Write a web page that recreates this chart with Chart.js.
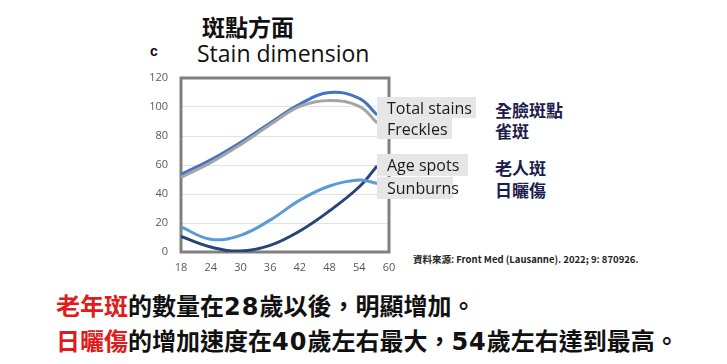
<!DOCTYPE html>
<html lang="zh-Hant">
<head>
  <meta charset="UTF-8" />
  <title>斑點方面 - Stain dimension</title>
  <script src="https://cdn.jsdelivr.net/npm/chart.js"></script>
  <style>
    body {
      margin: 0;
      background: #fff;
      width: 727px;
      height: 364px;
      position: relative;
      overflow: hidden;
      font-family: "Noto Sans CJK TC", "Noto Sans", sans-serif;
    }
    .abs { position: absolute; white-space: nowrap; }
    #titulo { left: 202px; top: 9px; font-size: 23px; font-weight: bold; color: #111; line-height: 34px; }
    #letra { left: 150px; top: 43px; font-size: 14px; font-weight: bold; color: #111; font-family: "Liberation Sans", sans-serif; }
    #sub { left: 197px; top: 37px; font-size: 23px; color: #111; font-family: "Open Sans", sans-serif; line-height: 32px; }
    #caja { left: 140px; top: 70px; width: 260px; height: 210px; }
    .etq {
      background: #e6e6e6;
      font-family: "Open Sans", sans-serif;
      font-size: 16px;
      color: #1a1a1a;
      padding-left: 10px;
      box-sizing: border-box;
      line-height: 22px;
      height: 21px;
      left: 377px;
      z-index: 2;
    }
    .zh { left: 495px; font-size: 17px; font-weight: bold; color: #1c1c4e; line-height: 22px; }
    #fuente { left: 413px; top: 252px; font-size: 9.5px; font-weight: bold; color: #222; }
    .linea { left: 56px; font-size: 24px; font-weight: bold; color: #111; line-height: 30px; }
    .num { font-family: "DejaVu Sans", sans-serif; letter-spacing: 1px; }
    .rojo { color: #e01b1b; }
  </style>
</head>
<body>
  <div class="abs" id="titulo">斑點方面</div>
  <div class="abs" id="letra">c</div>
  <div class="abs" id="sub">Stain dimension</div>

  <div class="abs" id="caja"><canvas id="grafico"></canvas></div>

  <div class="abs etq" style="top:97px;width:99px;">Total stains</div>
  <div class="abs etq" style="top:118px;width:75px;">Freckles</div>
  <div class="abs etq" style="top:154px;width:91px;height:22px;">Age spots</div>
  <div class="abs etq" style="top:177px;width:76px;height:22px;">Sunburns</div>

  <div class="abs zh" style="top:99px;">全臉斑點</div>
  <div class="abs zh" style="top:120px;">雀斑</div>
  <div class="abs zh" style="top:157px;">老人斑</div>
  <div class="abs zh" style="top:179px;">日曬傷</div>

  <div class="abs" id="fuente">資料來源: Front Med (Lausanne). 2022; 9: 870926.</div>

  <div class="abs linea" style="top:290px;"><span class="rojo">老年斑</span>的數量在<span class="num">28</span>歲以後，明顯增加。</div>
  <div class="abs linea" style="top:325px;"><span class="rojo">日曬傷</span>的增加速度在<span class="num">40</span>歲左右最大，<span class="num">54</span>歲左右達到最高。</div>

  <script>
    // edades (la curva termina bajo las etiquetas)
    const edades = [18, 24, 30, 36, 42, 48, 54, 57.6];
    const totalStains = [53.5, 63.5, 75.5, 89, 102, 110, 106, 94.5];
    const freckles = [51.5, 61.6, 74, 87.7, 100.4, 104.5, 100.4, 89];
    const ageSpots = [10.8, 3.5, 0.7, 4.6, 14.5, 28.4, 45, 59.3];
    const sunburns = [17.3, 8.8, 11.5, 22, 35.8, 45.5, 49.6, 47.3];

    function serie(valores, color) {
      return {
        data: edades.map((x, i) => ({ x: x, y: valores[i] })),
        borderColor: color,
        borderWidth: 3,
        pointRadius: 0,
        tension: 0.4,
        fill: false
      };
    }

    const marco = {
      id: 'marco',
      beforeDatasetsDraw(chart) {
        const a = chart.chartArea;
        const ctx = chart.ctx;
        ctx.save();
        ctx.strokeStyle = '#808080';
        ctx.lineWidth = 3;
        ctx.strokeRect(a.left, a.top, a.right - a.left, a.bottom - a.top);
        ctx.restore();
      }
    };

    new Chart(document.getElementById('grafico').getContext('2d'), {
      type: 'line',
      data: {
        datasets: [
          serie(freckles, '#a5a5a5'),
          serie(totalStains, '#4472c4'),
          serie(sunburns, '#5b9bd5'),
          serie(ageSpots, '#264478')
        ]
      },
      options: {
        responsive: true,
        maintainAspectRatio: false,
        animation: false,
        layout: { padding: { top: 8, right: 11, left: 0, bottom: 0 } },
        plugins: { legend: { display: false }, tooltip: { enabled: false } },
        scales: {
          x: {
            type: 'linear',
            min: 18,
            max: 60,
            afterFit: s => { s.height = 28; },
            grid: { display: false, tickLength: 9 },
            border: { display: false },
            ticks: { stepSize: 6, color: '#595959', font: { size: 11, family: 'Open Sans' }, padding: 0, maxRotation: 0 }
          },
          y: {
            min: 0,
            max: 120,
            afterFit: s => { s.width = 41; },
            grid: { color: '#e3e3e3', tickLength: 13, tickColor: 'rgba(0,0,0,0)' },
            border: { display: false },
            ticks: { stepSize: 20, color: '#595959', font: { size: 11, family: 'Open Sans' }, padding: 0 }
          }
        }
      },
      plugins: [marco]
    });
  </script>
</body>
</html>
